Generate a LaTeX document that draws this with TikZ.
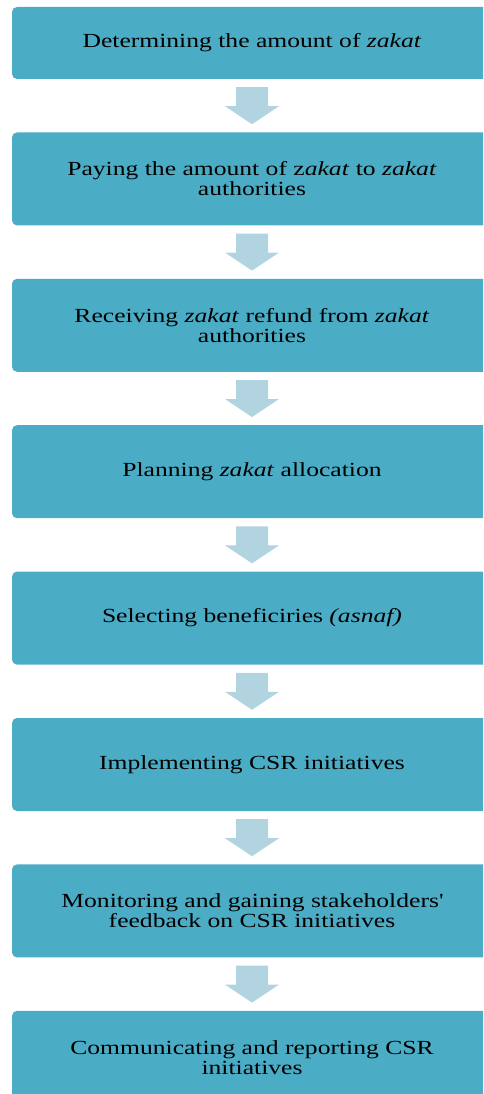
\documentclass[tikz,border=0pt]{standalone}
\usepackage{fontspec}
\setmainfont{Liberation Serif}[FakeStretch=1.28]
\usetikzlibrary{positioning}
\usetikzlibrary{calc}

\definecolor{stagefill}{HTML}{4BACC6}
\definecolor{arrowfill}{HTML}{B1D4E0}

\begin{document}
\begin{tikzpicture}[x=1pt,y=-1pt,
    stage/.style={fill=stagefill,rounded corners=5pt,minimum width=480pt,
        minimum height=93pt,align=center,inner sep=0pt,
        font=\fontsize{20}{20}\selectfont},
    flowarrow/.style={fill=arrowfill}]

    \path[use as bounding box,clip] (0,0) rectangle (483,1094);

    %the stages, top to bottom
    \node[stage,minimum height=72pt] (s1) at (252,43) {Determining the amount of \textit{zakat}};
    \node[stage,below=53pt of s1] (s2) {Paying the amount of z\textit{akat} to \textit{zakat}\\authorities};
    \node[stage,below=53pt of s2] (s3) {Receiving \textit{zakat} refund from \textit{zakat}\\authorities};
    \node[stage,below=53pt of s3] (s4) {Planning \textit{zakat} allocation};
    \node[stage,below=53pt of s4] (s5) {Selecting beneficiries \textit{(asnaf)}};
    \node[stage,below=53pt of s5] (s6) {Implementing CSR initiatives};
    \node[stage,below=53pt of s6] (s7) {Monitoring and gaining stakeholders\textquotesingle\\feedback on CSR initiatives};
    \node[stage,below=53pt of s7] (s8) {Communicating and reporting CSR\\initiatives};

    %block arrows between the stages
    \foreach \a/\b in {s1/s2,s2/s3,s3/s4,s4/s5,s5/s6,s6/s7,s7/s8}
        \fill[flowarrow] ($(\a.south)+(-16,8)$) -- ++(32,0) -- ++(0,19) -- ++(11,0)
            -- ($(\b.north)+(0,-8)$) -- ++(-27,-18) -- ++(11,0) -- cycle;

\end{tikzpicture}
\end{document}
